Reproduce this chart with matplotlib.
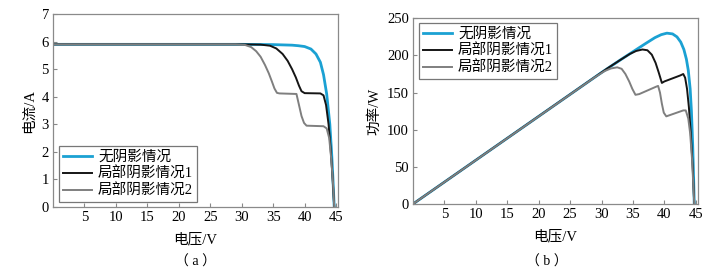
import matplotlib
matplotlib.use("Agg")
import matplotlib.pyplot as plt

plt.rcParams['font.family'] = ['Liberation Serif', 'Noto Sans CJK SC']
plt.rcParams['font.size'] = 10

labels = ['无阴影情况', '局部阴影情况1', '局部阴影情况2']
colors = ['#1ba1d3', '#151515', '#7f7f7f']
widths = [2.0, 1.4, 1.4]

# I-V curves
iv_v0 = [0, 30, 35, 38, 39, 40, 41, 41.8, 42.5, 43.0, 43.5, 44.0, 44.3, 44.5, 44.7]
iv_i0 = [5.9, 5.9, 5.89, 5.87, 5.85, 5.82, 5.73, 5.55, 5.25, 4.8, 4.1, 3.0, 1.9, 1.0, 0]

iv_v1 = [0, 30, 33, 34.5, 35.5, 36.5, 37.3, 38, 38.6, 39.1, 39.5, 40, 42.5, 43.0,
         43.4, 43.8, 44.1, 44.4, 44.7]
iv_i1 = [5.9, 5.9, 5.89, 5.85, 5.75, 5.55, 5.3, 5.0, 4.7, 4.4, 4.2, 4.13, 4.12, 4.05,
         3.7, 3.0, 2.2, 1.2, 0]

iv_v2 = [0, 29, 30.5, 31.5, 32.3, 33, 33.7, 34.3, 34.8, 35.2, 35.6, 36, 38.7, 39.1,
         39.5, 39.9, 40.3, 43.0, 43.5, 43.9, 44.2, 44.5, 44.7]
iv_i2 = [5.9, 5.9, 5.88, 5.8, 5.65, 5.45, 5.15, 4.85, 4.55, 4.3, 4.14, 4.12, 4.1, 3.7,
         3.3, 3.05, 2.95, 2.93, 2.85, 2.5, 1.8, 0.9, 0]

# P-V curves
pv_v0 = [0, 30, 33, 35, 37, 38.5, 39.5, 40.4, 41.3, 42, 42.6, 43.1, 43.5, 43.8, 44.1,
         44.3, 44.5, 44.65, 44.75]
pv_p0 = [0, 177, 194, 205, 216, 224, 228, 230, 229, 225, 218, 208, 195, 180, 155,
         125, 80, 35, 0]

pv_v1 = [0, 31, 33, 34.5, 35.5, 36.5, 37.3, 38, 38.6, 39.1, 39.6, 40, 42.5, 43.0,
         43.3, 43.6, 43.9, 44.2, 44.5, 44.75]
pv_p1 = [0, 183, 194, 202, 206, 208, 207, 201, 190, 177, 163, 165, 173, 175,
         170, 155, 130, 95, 50, 0]

pv_v2 = [0, 29, 30.5, 31.5, 32.5, 33.2, 33.8, 34.4, 34.9, 35.4, 36, 38.7, 39.0, 39.3,
         39.6, 39.9, 40.3, 43.0, 43.4, 43.8, 44.1, 44.4, 44.75]
pv_p2 = [0, 171, 179, 182.5, 184, 182, 175, 165, 155, 147, 148, 158, 159, 150,
         135, 123, 118, 126, 126, 115, 95, 60, 0]

fig = plt.figure(figsize=(7.21, 2.70), dpi=100)
ax1 = fig.add_axes([0.0734, 0.2333, 0.3954, 0.7148])
ax2 = fig.add_axes([0.5727, 0.2444, 0.395, 0.6878])

for v, i, lab, c, w in zip([iv_v0, iv_v1, iv_v2], [iv_i0, iv_i1, iv_i2], labels, colors, widths):
    ax1.plot(v, i, color=c, lw=w, label=lab)
for v, p, lab, c, w in zip([pv_v0, pv_v1, pv_v2], [pv_p0, pv_p1, pv_p2], labels, colors, widths):
    ax2.plot(v, p, color=c, lw=w, label=lab)

for ax in (ax1, ax2):
    ax.set_xlim(0, 45.3)
    ax.set_xticks(range(5, 50, 5))
    ax.tick_params(direction='in', length=3, color='#888888', labelsize=10.5, pad=3)
    for s in ax.spines.values():
        s.set_color('#8a8a8a')
        s.set_linewidth(0.9)
    ax.set_xlabel('电压/V', labelpad=6, fontsize=10.5)

ax1.set_ylim(0, 7)
ax1.set_yticks(range(0, 8))
ax1.set_ylabel('电流/A', labelpad=4, fontsize=10.5)
ax2.set_ylim(0, 250)
ax2.set_yticks(range(0, 251, 50))
ax2.set_ylabel('功率/W', labelpad=4, fontsize=10.5)

leg1 = ax1.legend(loc='lower left', bbox_to_anchor=(0.02, 0.025), fancybox=False,
                  edgecolor='#555555', fontsize=10.5, handlelength=2.0,
                  borderpad=0.3, labelspacing=0.2, handletextpad=0.4, borderaxespad=0)
leg2 = ax2.legend(loc='upper left', bbox_to_anchor=(0.02, 0.975), fancybox=False,
                  edgecolor='#555555', fontsize=10.5, handlelength=2.0,
                  borderpad=0.3, labelspacing=0.2, handletextpad=0.4, borderaxespad=0)
for leg in (leg1, leg2):
    leg.get_frame().set_linewidth(0.9)

fig.text(0.2711, 0.03, '（ a ）', ha='center', va='center', fontsize=10)
fig.text(0.7587, 0.03, '（ b ）', ha='center', va='center', fontsize=10)

fig.savefig('out.png', dpi=100)
